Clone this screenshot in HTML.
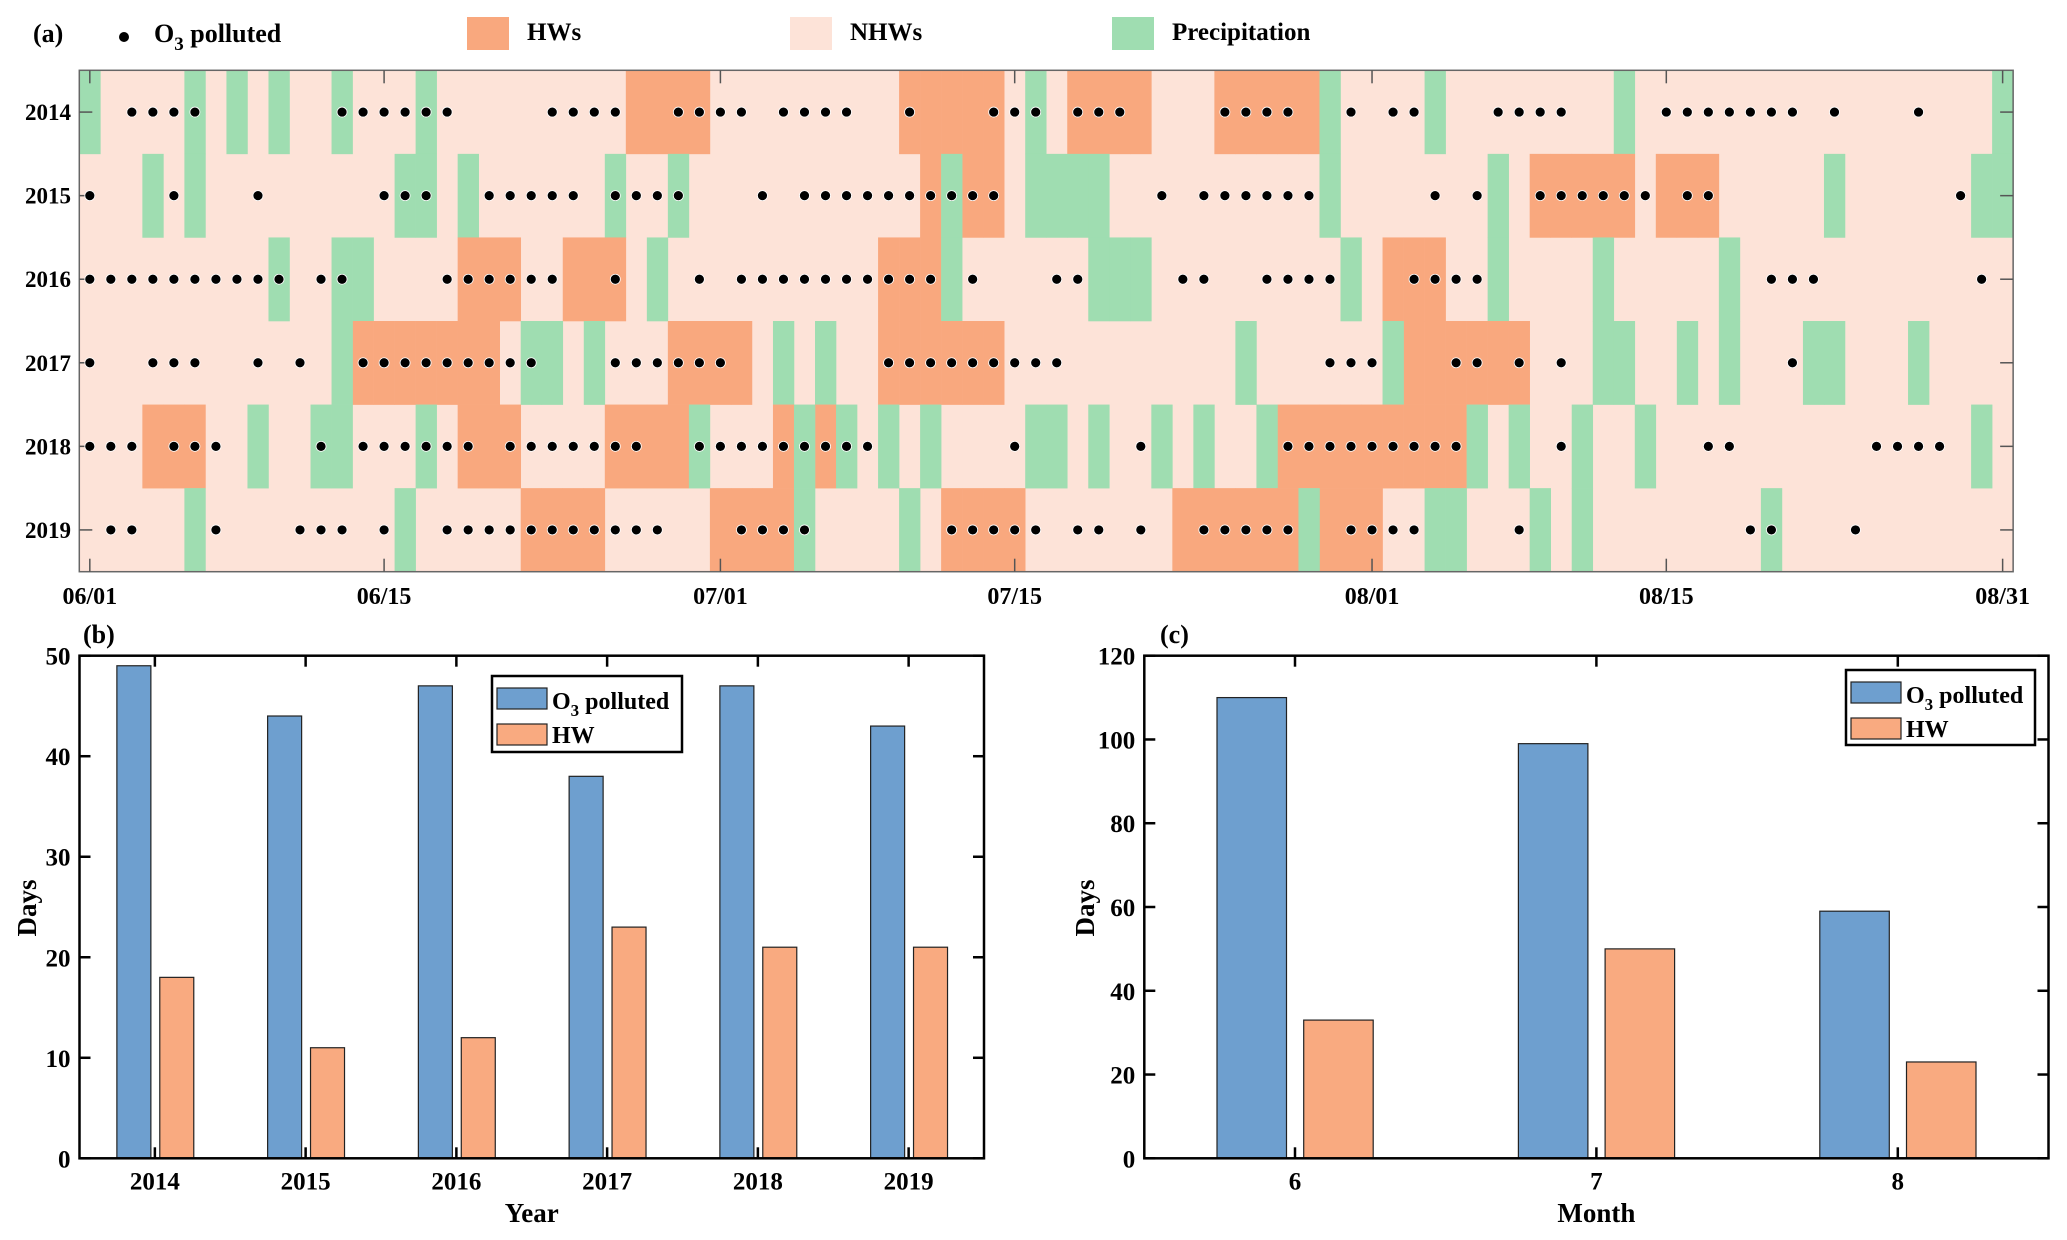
<!DOCTYPE html>
<html><head><meta charset="utf-8"><style>
html,body{margin:0;padding:0;background:#fff;}
svg{display:block;font-family:"Liberation Serif",serif;font-weight:bold;}
</style></head><body>
<svg id="fig" xmlns="http://www.w3.org/2000/svg" width="2067" height="1240" viewBox="0 0 2067 1240">
<rect width="2067" height="1240" fill="#fff"/>
<g id="pa"></g>
<g id="pb"></g>
<g id="pc"></g>
</svg>
<script>
// ---- Panel (a) data ----
const years = ['2014','2015','2016','2017','2018','2019'];
const dateTickDays = [0,14,30,44,61,75,91];
const dateTickLabels = ['06/01','06/15','07/01','07/15','08/01','08/15','08/31'];
const hwDays = [
 [26,27,28,29,39,40,41,42,43,47,48,49,50,54,55,56,57,58],
 [40,42,43,69,70,71,72,73,75,76,77],
 [18,19,20,23,24,25,38,39,40,62,63,64],
 [13,14,15,16,17,18,19,28,29,30,31,38,39,40,41,42,43,63,64,65,66,67,68],
 [3,4,5,18,19,20,25,26,27,28,33,35,57,58,59,60,61,62,63,64,65],
 [21,22,23,24,30,31,32,33,41,42,43,44,52,53,54,55,56,57,59,60,61]
];
const precipDays = [
 [0,5,7,9,12,16,45,59,64,73,91],
 [3,5,15,16,18,25,28,41,45,46,47,48,59,67,83,90,91],
 [9,12,13,27,41,48,49,50,60,67,72,78],
 [12,21,22,24,33,35,55,62,72,73,76,78,82,83,87],
 [8,11,12,16,29,34,36,38,40,45,46,48,51,53,56,66,68,71,74,90],
 [5,15,34,39,58,64,65,69,71,80]
];
const o3Days = [
 [2,3,4,5,12,13,14,15,16,17,22,23,24,25,28,29,30,31,33,34,35,36,39,43,44,45,47,48,49,54,55,56,57,60,62,63,67,68,69,70,75,76,77,78,79,80,81,83,87],
 [0,4,8,14,15,16,19,20,21,22,23,25,26,27,28,32,34,35,36,37,38,39,40,41,42,43,51,53,54,55,56,57,58,64,66,69,70,71,72,73,74,76,77,89],
 [0,1,2,3,4,5,6,7,8,9,11,12,17,18,19,20,21,22,25,29,31,32,33,34,35,36,37,38,39,40,42,46,47,52,53,56,57,58,59,63,64,65,66,80,81,82,90],
 [0,3,4,5,8,10,13,14,15,16,17,18,19,20,21,25,26,27,28,29,30,38,39,40,41,42,43,44,45,46,59,60,61,65,66,68,70,81],
 [0,1,2,4,5,6,11,13,14,15,16,17,18,20,21,22,23,24,25,26,29,30,31,32,33,34,35,36,37,44,50,57,58,59,60,61,62,63,64,65,70,77,78,85,86,87,88],
 [1,2,6,10,11,12,14,17,18,19,20,21,22,23,24,25,26,27,31,32,33,34,41,42,43,44,45,47,48,50,53,54,55,56,57,60,61,62,63,68,79,80,84]
];
// ---- Panel (b) data ----
const yearCats = ['2014','2015','2016','2017','2018','2019'];
const yearO3 = [49,44,47,38,47,43];
const yearHW = [18,11,12,23,21,21];
const bTicks = [0,10,20,30,40,50];
// ---- Panel (c) data ----
const monthCats = ['6','7','8'];
const monthO3 = [110,99,59];
const monthHW = [33,50,23];
const cTicks = [0,20,40,60,80,100,120];

const NS='http://www.w3.org/2000/svg';
const C_HW='#F9A87E', C_N='#FDE3D8', C_P='#9FDDB1', C_B='#6E9FCF', C_O='#F9AA80';
function mk(parent,tag,attrs,text){const e=document.createElementNS(NS,tag);for(const k in attrs)e.setAttribute(k,attrs[k]);if(text!==undefined)e.textContent=text;parent.appendChild(e);return e;}

// ===== Panel A =====
const pa=document.getElementById('pa');
const aL=79.3, aT=70.3, aB=571.7, pitch=21.02, aR=aL+92*pitch;
const rowH=(aB-aT)/years.length;
const dayX=d=>aL+pitch*d;            // left edge of day cell
const dayC=d=>aL+pitch*(d+0.5);      // center of day
const rowY=r=>aT+rowH*r;
const bg=mk(pa,'rect',{x:aL,y:aT,width:aR-aL,height:aB-aT,fill:C_N});


years.forEach((y,r)=>{
  hwDays[r].forEach(d=>{const c=mk(pa,'rect',{x:dayX(d),y:rowY(r),width:pitch+0.3,height:rowH+0.3,fill:C_HW});
    
    });
  precipDays[r].forEach(d=>{const c=mk(pa,'rect',{x:dayX(d),y:rowY(r),width:pitch+0.3,height:rowH+0.3,fill:C_P});
    
    });
});
mk(pa,'rect',{x:aL,y:aT,width:aR-aL,height:aB-aT,fill:'none',stroke:'#666','stroke-width':1.5});
years.forEach((y,r)=>{
  const cy=rowY(r)+rowH/2;
  mk(pa,'line',{x1:aL,x2:aL+13,y1:cy,y2:cy,stroke:'#555','stroke-width':1.5});
  mk(pa,'line',{x1:aR,x2:aR-13,y1:cy,y2:cy,stroke:'#555','stroke-width':1.5});
  const t=mk(pa,'text',{x:71,y:cy+8,'text-anchor':'end','font-size':23},y);
  
  
  o3Days[r].forEach(d=>{const c=mk(pa,'circle',{cx:dayC(d),cy:cy,r:5,fill:'#000',stroke:'#fff','stroke-width':0.8});
    
    });
});
dateTickDays.forEach((d,i)=>{
  const x=dayC(d);
  mk(pa,'line',{x1:x,x2:x,y1:aT,y2:aT+13,stroke:'#555','stroke-width':1.5});
  mk(pa,'line',{x1:x,x2:x,y1:aB,y2:aB-13,stroke:'#555','stroke-width':1.5});
  const t=mk(pa,'text',{x:x,y:604,'text-anchor':'middle','font-size':24},dateTickLabels[i]);
  
  
});
let t=mk(pa,'text',{x:33,y:42,'font-size':26},'(a)');

let lg=mk(pa,'g',{});

mk(lg,'circle',{cx:124,cy:37,r:5,fill:'#000'});
let lt=mk(lg,'text',{x:154,y:42,'font-size':26});
mk(lt,'tspan',{},'O');mk(lt,'tspan',{dy:8,'font-size':19},'3');mk(lt,'tspan',{dy:-8},' polluted');
[[467,'HWs',C_HW,'legend-hws'],[790,'NHWs',C_N,'legend-nhws'],[1112,'Precipitation',C_P,'legend-precipitation']].forEach(a=>{
  const g=mk(pa,'g',{});
  
  
  mk(g,'rect',{x:a[0],y:17,width:42,height:33,fill:a[2]});
  mk(g,'text',{x:a[0]+60,y:40,'font-size':25},a[1]);
});

// ===== Bar panels =====
function barPanel(g,o){
  const {L,R,T,B,cats,s1,s2,ticks,ymax,off1,off2,bw,xl,lab,labX,daysX,leg}=o;
  const n=cats.length, sp=(R-L)/n;
  const xs=i=>L+sp*(i+0.5);
  const ys=v=>B-(B-T)*v/ymax;
  cats.forEach((c,i)=>{
    const r1=mk(g,'rect',{x:xs(i)+off1,y:ys(s1[i]),width:bw,height:B-ys(s1[i]),fill:C_B,stroke:'#222','stroke-width':1.2});
    
    
    const r2=mk(g,'rect',{x:xs(i)+off2,y:ys(s2[i]),width:bw,height:B-ys(s2[i]),fill:C_O,stroke:'#222','stroke-width':1.2});
    
    
    mk(g,'line',{x1:xs(i),x2:xs(i),y1:T,y2:T+11,stroke:'#000','stroke-width':2.5});
    mk(g,'line',{x1:xs(i),x2:xs(i),y1:B,y2:B-11,stroke:'#000','stroke-width':2.5});
    const tl=mk(g,'text',{x:xs(i),y:B+31,'text-anchor':'middle','font-size':25},c);
    
    
  });
  ticks.forEach(v=>{
    mk(g,'line',{x1:L,x2:L+11,y1:ys(v),y2:ys(v),stroke:'#000','stroke-width':2.5});
    mk(g,'line',{x1:R,x2:R-11,y1:ys(v),y2:ys(v),stroke:'#000','stroke-width':2.5});
    const tl=mk(g,'text',{x:L-9,y:ys(v)+9,'text-anchor':'end','font-size':25},String(v));
    
    
  });
  mk(g,'rect',{x:L,y:T,width:R-L,height:B-T,fill:'none',stroke:'#000','stroke-width':2.5});
  let e=mk(g,'text',{x:(L+R)/2,y:1222,'text-anchor':'middle','font-size':27},xl);
  
  e=mk(g,'text',{x:daysX,y:908,'text-anchor':'middle','font-size':27,transform:'rotate(-90 '+daysX+' 908)'},'Days');
  
  e=mk(g,'text',{x:labX,y:643,'font-size':26},lab);
  
  const lgd=mk(g,'g',{});
  
  
  mk(lgd,'rect',{x:leg.x,y:leg.y,width:leg.w,height:leg.h,fill:'#fff',stroke:'#000','stroke-width':2.5});
  mk(lgd,'rect',{x:leg.x+5,y:leg.y+12,width:50,height:21,fill:C_B,stroke:'#222','stroke-width':1.2});
  mk(lgd,'rect',{x:leg.x+5,y:leg.y+48,width:50,height:21,fill:C_O,stroke:'#222','stroke-width':1.2});
  const t1=mk(lgd,'text',{x:leg.x+60,y:leg.y+33,'font-size':24});
  mk(t1,'tspan',{},'O');mk(t1,'tspan',{dy:7,'font-size':17},'3');mk(t1,'tspan',{dy:-7},' polluted');
  mk(lgd,'text',{x:leg.x+60,y:leg.y+67,'font-size':24},'HW');
}
barPanel(document.getElementById('pb'),{L:79.5,R:984,T:655.7,B:1158.3,cats:yearCats,s1:yearO3,s2:yearHW,ticks:bTicks,ymax:50,
  off1:-38,off2:4.9,bw:34,xl:'Year',lab:'(b)',labX:83,daysX:36,leg:{x:492,y:676,w:190,h:76}});
barPanel(document.getElementById('pc'),{L:1144.3,R:2048.5,T:655.7,B:1158.3,cats:monthCats,s1:monthO3,s2:monthHW,ticks:cTicks,ymax:120,
  off1:-78,off2:8.7,bw:69.5,xl:'Month',lab:'(c)',labX:1160,daysX:1094,leg:{x:1846,y:670,w:189,h:75}});
</script>
</body></html>
